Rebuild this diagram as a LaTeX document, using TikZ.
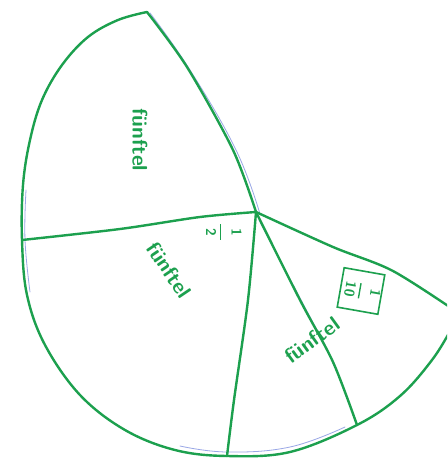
\documentclass[tikz,border=0pt]{standalone}
\definecolor{pen}{RGB}{28,160,78}
\definecolor{bluepen}{RGB}{110,130,220}
\tikzset{
  penline/.style={draw=pen, line width=2.4pt, line cap=round, line join=round},
  bluethin/.style={draw=bluepen!70, line width=0.8pt, line cap=round},
  word/.style={text=pen, font=\sffamily\bfseries\fontsize{21}{21}\selectfont, inner sep=0pt},
  frac/.style={text=pen, font=\sffamily\bfseries\fontsize{14}{14}\selectfont, inner sep=1pt}
}
\newcommand{\handfrac}[2]{\setlength{\tabcolsep}{0pt}\renewcommand{\arraystretch}{0.9}\begin{tabular}{c}#1\\[-1pt]\color{pen}\rule{1.1em}{1.4pt}\\#2\end{tabular}}
\begin{document}
\begin{tikzpicture}[x=1pt,y=-1pt]
\useasboundingbox (0,0) rectangle (447,462);
\fill[white] (0,0) rectangle (447,462);
\clip (0,0) rectangle (447,462);

% key points
\coordinate (C) at (256,212);
\coordinate (T) at (147,12);
\coordinate (L) at (22,240);
\coordinate (B) at (227,456);
\coordinate (R1) at (357,425);
\coordinate (R) at (460,314);

% faint blue under-strokes
\draw[bluethin] plot[smooth, tension=0.7] coordinates {(150,13) (190,70) (236,150) (260,214)};
\draw[bluethin] plot[smooth, tension=0.7] coordinates {(26,190) (25,240) (30,292)};
\draw[bluethin] plot[smooth, tension=0.7] coordinates {(180,446) (227,452) (290,447) (345,427)};
\draw[bluethin] plot[smooth, tension=0.7] coordinates {(259,220) (300,298) (325,345)};

% outer boundary
\draw[penline] plot[smooth, tension=0.6] coordinates {
  (T) (118,20) (88,37) (62,65) (42,100) (30,140) (23,185) (L) (27,295) (45,345)
  (80,395) (125,430) (175,450) (B) (290,452) (R1) (400,396) (432,360) (452,328) (R)};

% radial lines
\draw[penline] plot[smooth, tension=0.5] coordinates {(T) (187,67) (233,150) (C)};
\draw[penline] plot[smooth, tension=0.5] coordinates {(L) (120,229) (200,217) (C)};
\draw[penline] plot[smooth, tension=0.5] coordinates {(C) (248,300) (234,400) (B)};
\draw[penline] plot[smooth, tension=0.5] coordinates {(C) (300,300) (333,362) (R1)};
\draw[penline] plot[smooth, tension=0.5] coordinates {(C) (333,247) (393,271) (R)};

% labels
\node[word, rotate=-90] (w1) at (140,140) {fünftel};
\node[word, rotate=-56] (w2) at (169,270) {fünftel};
\node[word, rotate=36] (w3) at (312,340) {fünftel};
\node[frac, rotate=-90] (h) at (222,232) {\handfrac{1}{2}};
\node[frac, draw=pen, line width=1.6pt, rotate=-100, minimum width=40pt, minimum height=28pt] (z) at (361,291) {\handfrac{1}{10}};
\end{tikzpicture}
\end{document}
